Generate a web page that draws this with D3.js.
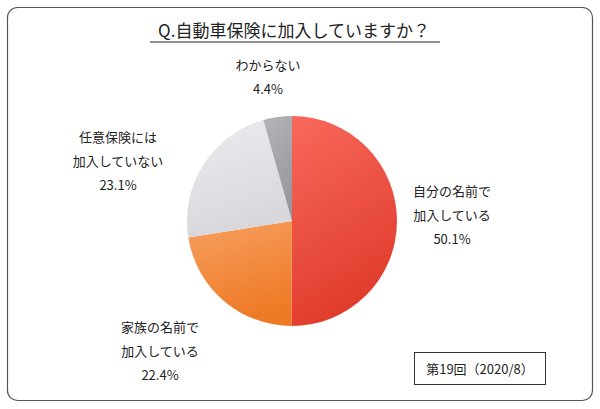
<!DOCTYPE html>
<html><head><meta charset="utf-8">
<script src="https://cdn.jsdelivr.net/npm/d3@7"></script>
<style>body{margin:0;background:#fff}text{font-family:"Noto Sans CJK JP",sans-serif;fill:#222}</style>
</head><body><div id="vis"></div>
<script>
var labels = [["自分の名前で", "加入している"], ["家族の名前で", "加入している"], ["任意保険には", "加入していない"], ["わからない"]];
var values = [50.1, 22.4, 23.1, 4.4];
var colorsLight = ["#f8695c", "#f7a060", "#ececf0", "#b4b4b8"];
var colorsDark = ["#e03c2c", "#ee7a26", "#d8d8dc", "#98989c"];
var labelPos = [[452, 196], [160, 332], [118, 142], [268, 70]];

var width = 600, height = 409;
var svg = d3.select("#vis").append("svg").attr("width", width).attr("height", height);

svg.append("rect").attr("x", 7.5).attr("y", 7.5).attr("width", 585).attr("height", 393)
    .attr("rx", 10).attr("fill", "#fff").attr("stroke", "#555").attr("stroke-width", 1.2);

svg.append("text").attr("x", 294).attr("y", 37).attr("text-anchor", "middle")
    .attr("font-size", 17).text("Q.自動車保険に加入していますか？");
svg.append("line").attr("x1", 150).attr("x2", 440).attr("y1", 42).attr("y2", 42)
    .attr("stroke", "#222").attr("stroke-width", 1.2);

var defs = svg.append("defs");
values.forEach(function(v, i){
    var g = defs.append("linearGradient").attr("id", "g" + i)
        .attr("x1", "0").attr("y1", "0").attr("x2", "0.3").attr("y2", "1");
    g.append("stop").attr("offset", "0").attr("stop-color", colorsLight[i]);
    g.append("stop").attr("offset", "1").attr("stop-color", colorsDark[i]);
});

var cx = 292, cy = 221, r = 105;
var pie = d3.pie().sort(null).value(function(d){ return d; });
var arc = d3.arc().innerRadius(0).outerRadius(r);
var pg = svg.append("g").attr("transform", "translate(" + cx + "," + cy + ")");
pg.selectAll("path").data(pie(values)).enter().append("path")
    .attr("d", arc).attr("fill", function(d, i){ return "url(#g" + i + ")"; });

labels.forEach(function(l, i){
    var t = svg.append("text").attr("text-anchor", "middle").attr("font-size", 13);
    var lines = l.concat([values[i].toFixed(1) + "%"]);
    lines.forEach(function(s, j){
        t.append("tspan").attr("x", labelPos[i][0]).attr("y", labelPos[i][1] + j * 24).text(s);
    });
});

svg.append("rect").attr("x", 414.5).attr("y", 352.5).attr("width", 131).attr("height", 32)
    .attr("fill", "#fff").attr("stroke", "#333");
svg.append("text").attr("x", 480).attr("y", 374).attr("text-anchor", "middle")
    .attr("font-size", 13).text("第19回（2020/8）");
</script></body></html>
